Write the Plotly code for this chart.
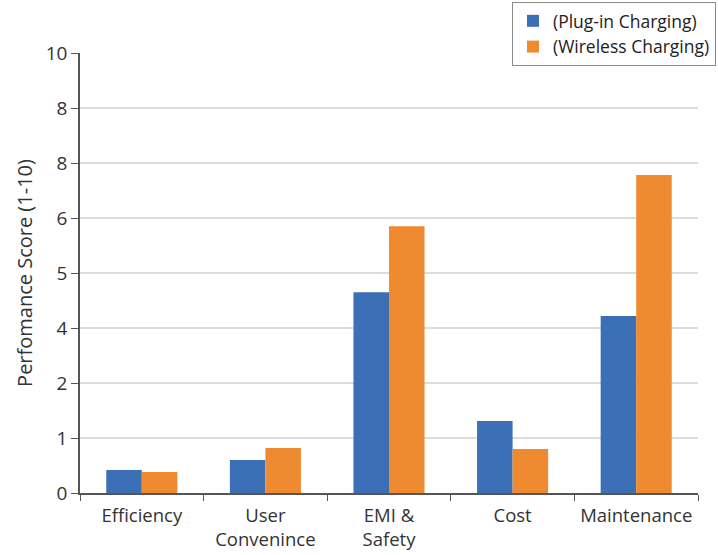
import plotly.graph_objects as go

categories = ["Efficiency", "User<br>Convenince", "EMI &<br>Safety", "Cost", "Maintenance"]
plug_in = [0.42, 0.60, 3.65, 1.31, 3.22]
wireless = [0.38, 0.82, 4.85, 0.80, 5.78]
tick_positions = [0, 1, 2, 3, 4, 5, 6, 7, 8]
tick_labels = ["0", "1", "2", "4", "5", "6", "8", "8", "10"]

fig = go.Figure()
fig.add_trace(go.Bar(x=categories, y=plug_in, name="(Plug-in Charging)",
                     marker=dict(color="#3B6FB6", line=dict(width=0))))
fig.add_trace(go.Bar(x=categories, y=wireless, name="(Wireless Charging)",
                     marker=dict(color="#EE8A2F", line=dict(width=0))))

font_family = "Open Sans, DejaVu Sans, sans-serif"
fig.update_layout(
    width=718, height=555,
    margin=dict(l=80, r=20, t=53, b=62, autoexpand=False),
    paper_bgcolor="white", plot_bgcolor="white",
    barmode="group", bargap=0.425, bargroupgap=0,
    font=dict(family=font_family, size=18, color="#333333"),
    legend=dict(x=0.699, y=1.116, xanchor="left", yanchor="top",
                bordercolor="#8a8a8a", borderwidth=1, bgcolor="white",
                font=dict(size=17.5, color="#222222"), tracegroupgap=0,
                itemwidth=30),
    xaxis=dict(showline=True, linecolor="#555555", linewidth=1.5,
               ticks="outside", tickson="boundaries", ticklen=6, tickcolor="#555555",
               tickfont=dict(size=18.5, color="#333333"), showgrid=False,
               tickangle=0, ticklabelstandoff=5),
    yaxis=dict(range=[0, 8], tickvals=tick_positions, ticktext=tick_labels,
               showline=True, linecolor="#555555", linewidth=1.5,
               ticks="outside", ticklen=7, tickcolor="#555555",
               showgrid=True, gridcolor="#dcdcdc", gridwidth=1.5,
               zeroline=False, ticklabelstandoff=0,
               tickfont=dict(size=19, color="#333333"),
               title=dict(text="Perfomance Score (1-10)", font=dict(size=20, color="#333333"),
                          standoff=8)),
)

fig.write_html("out.html")
